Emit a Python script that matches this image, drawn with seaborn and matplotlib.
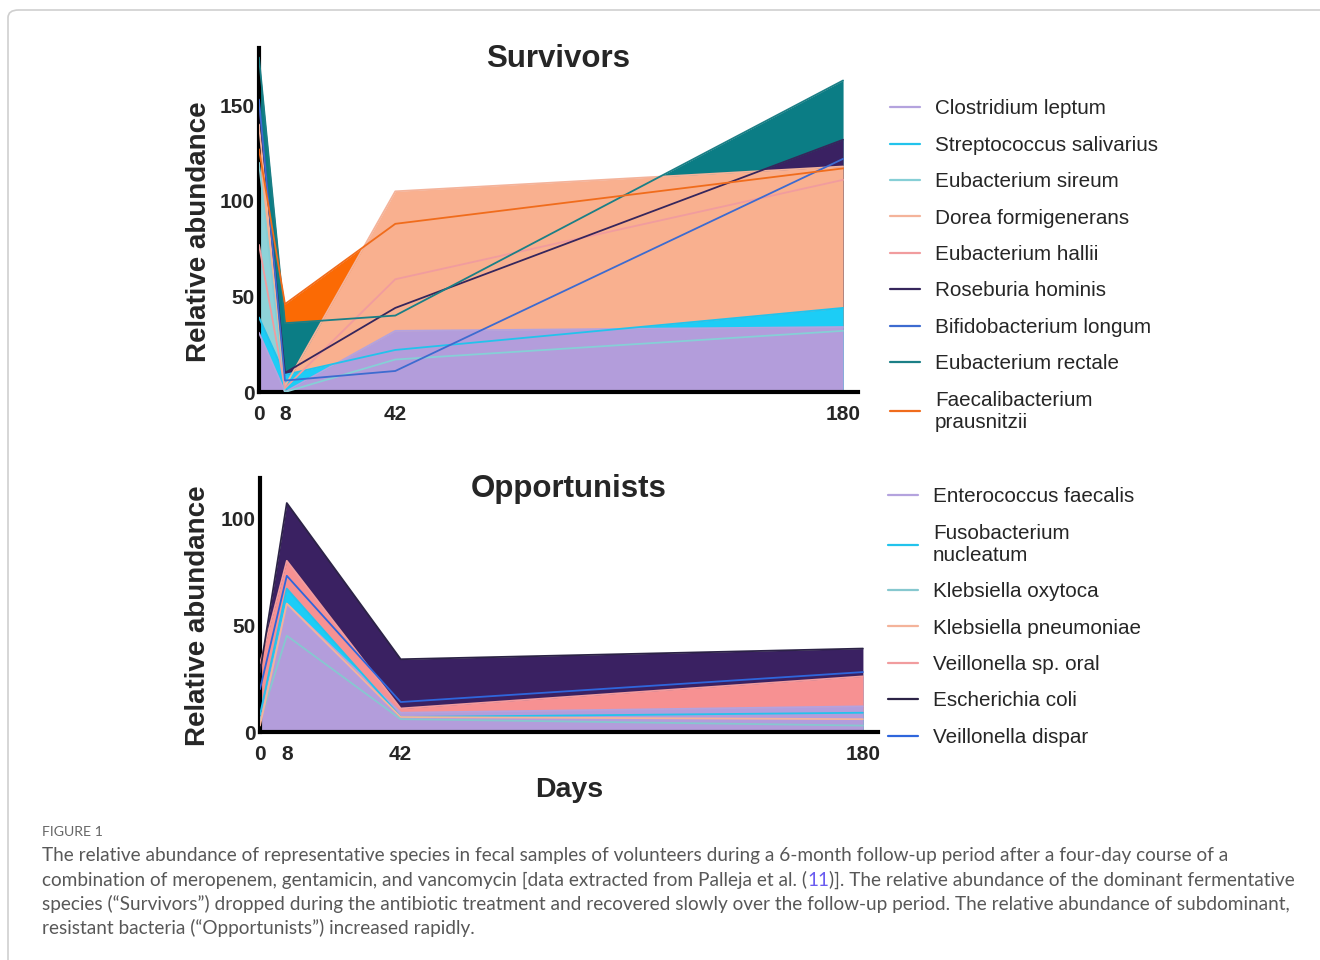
import pandas as pd
import seaborn as sns
import matplotlib.pyplot as plt
from matplotlib.lines import Line2D
from matplotlib.patches import FancyBboxPatch

# Sampling days
days = [0, 8, 42, 180]

# Survivors (relative abundance)
clostridium_leptum = [31, 0, 32, 34]
streptococcus_salivarius = [39, 9, 22, 44]
eubacterium_sireum = [120, 0, 17, 32]
dorea_formigenerans = [140, 3, 105, 118]
eubacterium_hallii = [77, 2, 59, 111]
roseburia_hominis = [150, 10, 44, 132]
bifidobacterium_longum = [153, 6, 11, 122]
eubacterium_rectale = [175, 36, 40, 163]
faecalibacterium_prausnitzii = [127, 46, 88, 117]

# Opportunists (relative abundance)
enterococcus_faecalis = [5, 60, 9, 12]
fusobacterium_nucleatum = [8, 67, 7, 9]
klebsiella_oxytoca = [5, 45, 6, 3]
klebsiella_pneumoniae = [3, 60, 7, 6]
veillonella_sp_oral = [32, 80, 11, 26]
escherichia_coli = [28, 107, 34, 39]
veillonella_dispar = [20, 73, 14, 28]

survivors = {
    'Clostridium leptum': clostridium_leptum,
    'Streptococcus salivarius': streptococcus_salivarius,
    'Eubacterium sireum': eubacterium_sireum,
    'Dorea formigenerans': dorea_formigenerans,
    'Eubacterium hallii': eubacterium_hallii,
    'Roseburia hominis': roseburia_hominis,
    'Bifidobacterium longum': bifidobacterium_longum,
    'Eubacterium rectale': eubacterium_rectale,
    'Faecalibacterium\nprausnitzii': faecalibacterium_prausnitzii,
}
opportunists = {
    'Enterococcus faecalis': enterococcus_faecalis,
    'Fusobacterium\nnucleatum': fusobacterium_nucleatum,
    'Klebsiella oxytoca': klebsiella_oxytoca,
    'Klebsiella pneumoniae': klebsiella_pneumoniae,
    'Veillonella sp. oral': veillonella_sp_oral,
    'Escherichia coli': escherichia_coli,
    'Veillonella dispar': veillonella_dispar,
}

line_colors = {
    'Clostridium leptum': '#b4a3de',
    'Streptococcus salivarius': '#22c3ec',
    'Eubacterium sireum': '#86cfd6',
    'Dorea formigenerans': '#f4b39a',
    'Eubacterium hallii': '#f19c9e',
    'Roseburia hominis': '#36265c',
    'Bifidobacterium longum': '#3d6bd0',
    'Eubacterium rectale': '#1b7f86',
    'Faecalibacterium\nprausnitzii': '#f06c1c',
    'Enterococcus faecalis': '#b4a3de',
    'Fusobacterium\nnucleatum': '#22c3ec',
    'Klebsiella oxytoca': '#86c8cf',
    'Klebsiella pneumoniae': '#f4b39a',
    'Veillonella sp. oral': '#f19c9e',
    'Escherichia coli': '#2c2346',
    'Veillonella dispar': '#2f66dc',
}

# filled species, bottom layer first
survivor_fills = [
    ('Faecalibacterium\nprausnitzii', '#fb6a04'),
    ('Eubacterium rectale', '#0b7d85'),
    ('Roseburia hominis', '#3a2162'),
    ('Dorea formigenerans', '#f9b08f'),
    ('Eubacterium sireum', '#8ed3d9'),
    ('Streptococcus salivarius', '#1ccdf6'),
    ('Clostridium leptum', '#b39ddb'),
]
opportunist_fills = [
    ('Escherichia coli', '#3a2162'),
    ('Veillonella sp. oral', '#f79192'),
    ('Fusobacterium\nnucleatum', '#1ccdf6'),
    ('Enterococcus faecalis', '#b39ddb'),
]

sns.set_theme(style='white')
plt.rcParams['font.family'] = ['Liberation Sans', 'DejaVu Sans']

W, H = 1320, 960
fig = plt.figure(figsize=(W / 100, H / 100), dpi=100)

tick_font = dict(family=['Liberation Sans Narrow', 'Liberation Sans'], weight='bold', size=15)


def to_long(groups):
    rows = []
    for name, vals in groups.items():
        for d, v in zip(days, vals):
            rows.append({'day': d, 'species': name, 'abundance': v})
    return pd.DataFrame(rows)


def draw_panel(ax, groups, fills, title, ymax, xmax, yticks, title_y, label_xy):
    for i, (name, col) in enumerate(fills):
        ax.fill_between(days, 0, groups[name], color=col, lw=0, zorder=1 + i * 0.01)
    sns.lineplot(
        data=to_long(groups), x='day', y='abundance', hue='species',
        hue_order=list(groups), palette=line_colors, linewidth=1.3,
        legend=False, ax=ax, zorder=3
    )
    ax.set_xlim(0, xmax)
    ax.set_ylim(0, ymax)
    ax.set_xticks(days)
    ax.set_yticks(yticks)
    ax.set_xticklabels([str(d) for d in days], fontdict=tick_font)
    ax.set_yticklabels([str(t) for t in yticks], fontdict=tick_font)
    ax.tick_params(axis='x', length=0, pad=9)
    ax.tick_params(axis='y', length=0, pad=3)
    for s in ['top', 'right']:
        ax.spines[s].set_visible(False)
    for s in ['left', 'bottom']:
        ax.spines[s].set_linewidth(3)
        ax.spines[s].set_color('black')
    ax.set_xlabel('')
    ax.set_ylabel('Relative abundance', fontsize=20, fontweight='bold')
    ax.yaxis.set_label_coords(*label_xy)
    ax.text(0.5, title_y, title, transform=ax.transAxes, ha='center', va='center',
            fontsize=22.5, fontweight='bold')
    ax.set_facecolor('white')


ax1 = fig.add_axes([259 / W, 1 - 392 / H, (858 - 259) / W, (392 - 48) / H])
draw_panel(ax1, survivors, survivor_fills, 'Survivors', 180, 184.6,
           [0, 50, 100, 150], 0.969, (-0.078, 0.465))

ax2 = fig.add_axes([260 / W, 1 - 732 / H, (878 - 260) / W, (732 - 478) / H])
draw_panel(ax2, opportunists, opportunist_fills, 'Opportunists', 118.7, 184.5,
           [0, 50, 100], 0.957, (-0.079, 0.457))
ax2.set_xlabel('Days', fontsize=20.5, fontweight='bold', labelpad=10)

# legends
leg_kw = dict(loc='upper left', frameon=False, fontsize=14.9, handlelength=1.45,
              handletextpad=0.72, labelspacing=0.84, borderpad=0, borderaxespad=0)
h1 = [Line2D([0], [0], color=line_colors[n], lw=1.6) for n in survivors]
fig.legend(h1, list(survivors), bbox_to_anchor=(890 / W, 1 - 99.5 / H), **leg_kw)
h2 = [Line2D([0], [0], color=line_colors[n], lw=1.6) for n in opportunists]
fig.legend(h2, list(opportunists), bbox_to_anchor=(888 / W, 1 - 487.5 / H), **leg_kw)

# page frame
frame = FancyBboxPatch((8 / W, -0.2), 1.5, 1.2 - 10 / H,
                       boxstyle='round,pad=0,rounding_size=0.008',
                       transform=fig.transFigure, facecolor='none',
                       edgecolor='#cfcfcf', lw=1.2, zorder=0)
fig.add_artist(frame)

# caption
cap_font = dict(family=['Lato', 'DejaVu Sans'], color='#585858', fontsize=13.7)
fig.text(42 / W, 1 - 832 / H, 'FIGURE 1', family=['Lato', 'DejaVu Sans'],
         color='#666666', fontsize=10.2, va='center')
fig.text(42 / W, 1 - 856 / H,
         'The relative abundance of representative species in fecal samples of volunteers '
         'during a 6-month follow-up period after a four-day course of a', va='center', **cap_font)

fig.canvas.draw()
renderer = fig.canvas.get_renderer()
t_a = fig.text(42 / W, 1 - 880 / H,
               'combination of meropenem, gentamicin, and vancomycin [data extracted from Palleja et al. (',
               va='center', **cap_font)
x_b = t_a.get_window_extent(renderer).x1 / W
t_b = fig.text(x_b, 1 - 880 / H, '11', va='center',
               family=['Lato', 'DejaVu Sans'], color='#6a5cf0', fontsize=13.7)
x_c = t_b.get_window_extent(renderer).x1 / W
fig.text(x_c, 1 - 880 / H,
         ')]. The relative abundance of the dominant fermentative', va='center', **cap_font)

fig.text(42 / W, 1 - 904 / H,
         'species (\u201cSurvivors\u201d) dropped during the antibiotic treatment and recovered slowly '
         'over the follow-up period. The relative abundance of subdominant,', va='center', **cap_font)
fig.text(42 / W, 1 - 928 / H,
         'resistant bacteria (\u201cOpportunists\u201d) increased rapidly.', va='center', **cap_font)

fig.savefig('out.png', dpi=100)
